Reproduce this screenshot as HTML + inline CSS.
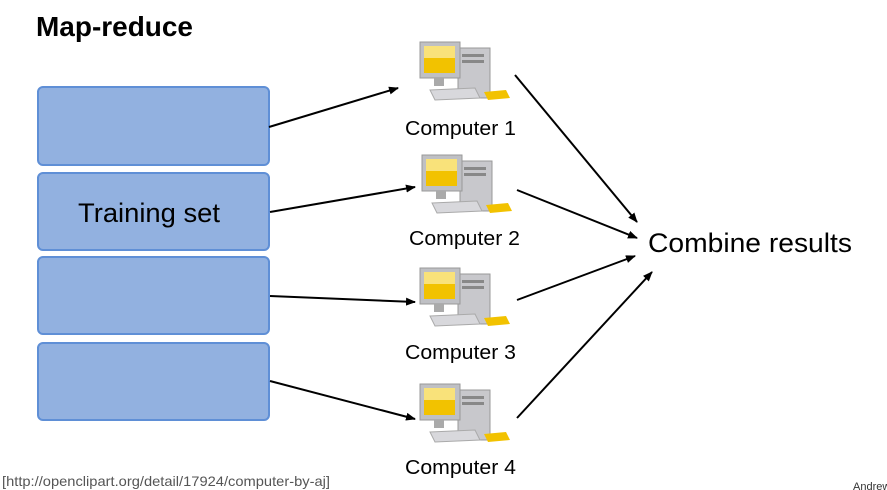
<!DOCTYPE html>
<html><head><style>
body{margin:0;width:887px;height:490px;background:#fff;overflow:hidden;position:relative;font-family:"Liberation Sans",sans-serif}
</style></head><body>
<svg width="887" height="490" style="position:absolute;left:0;top:0">
<defs>
<marker id="ah" markerWidth="10" markerHeight="8" refX="9" refY="4" orient="auto" markerUnits="userSpaceOnUse"><path d="M0,0 L10,4 L0,8 Z" fill="#000"/></marker>
<g id="pc">
<rect x="38" y="8" width="32" height="50" fill="#c8c8cc" stroke="#999"/>
<rect x="42" y="14" width="22" height="3" fill="#888"/>
<rect x="42" y="20" width="22" height="3" fill="#888"/>
<rect x="0" y="2" width="40" height="36" fill="#bfc0c4" stroke="#999"/>
<rect x="4" y="6" width="31" height="27" fill="#f2c200"/>
<rect x="4" y="6" width="31" height="12" fill="#f9e27a"/>
<rect x="14" y="38" width="10" height="8" fill="#aaa"/>
<path d="M10 50 L55 48 L60 58 L15 60 Z" fill="#d8d8dc" stroke="#aaa"/>
<path d="M64 52 L86 50 L90 58 L68 60 Z" fill="#f2c200"/>
</g>
</defs>
<rect x="38" y="87" width="231" height="78" rx="5" fill="#92b1e0" stroke="#5f8fd6" stroke-width="2"/>
<rect x="38" y="173" width="231" height="77" rx="5" fill="#92b1e0" stroke="#5f8fd6" stroke-width="2"/>
<rect x="38" y="257" width="231" height="77" rx="5" fill="#92b1e0" stroke="#5f8fd6" stroke-width="2"/>
<rect x="38" y="343" width="231" height="77" rx="5" fill="#92b1e0" stroke="#5f8fd6" stroke-width="2"/>
<use href="#pc" x="420" y="40"/>
<use href="#pc" x="422" y="153"/>
<use href="#pc" x="420" y="266"/>
<use href="#pc" x="420" y="382"/>
<g stroke="#000" stroke-width="2" fill="none" marker-end="url(#ah)">
<line x1="269" y1="127" x2="398" y2="88"/>
<line x1="270" y1="212" x2="415" y2="187"/>
<line x1="270" y1="296" x2="415" y2="302"/>
<line x1="270" y1="381" x2="415" y2="419"/>
<line x1="515" y1="75" x2="637" y2="222"/>
<line x1="517" y1="190" x2="637" y2="238"/>
<line x1="517" y1="300" x2="635" y2="256"/>
<line x1="517" y1="418" x2="652" y2="272"/>
</g>
<text x="36" y="36" font-size="28" font-weight="bold" fill="#000" textLength="157" lengthAdjust="spacingAndGlyphs">Map-reduce</text>
<text x="78" y="222" font-size="27" fill="#000" textLength="142" lengthAdjust="spacingAndGlyphs">Training set</text>
<text x="405" y="135" font-size="20" textLength="111" lengthAdjust="spacingAndGlyphs">Computer 1</text>
<text x="409" y="245" font-size="20" textLength="111" lengthAdjust="spacingAndGlyphs">Computer 2</text>
<text x="405" y="359" font-size="20" textLength="111" lengthAdjust="spacingAndGlyphs">Computer 3</text>
<text x="405" y="474" font-size="20" textLength="111" lengthAdjust="spacingAndGlyphs">Computer 4</text>
<text x="648" y="252" font-size="27" textLength="204" lengthAdjust="spacingAndGlyphs">Combine results</text>
<text x="2" y="486" font-size="14" fill="#555" textLength="328" lengthAdjust="spacingAndGlyphs">[http://openclipart.org/detail/17924/computer-by-aj]</text>
<text x="853" y="490" font-size="11" fill="#333">Andrew</text>
</svg>
</body></html>
